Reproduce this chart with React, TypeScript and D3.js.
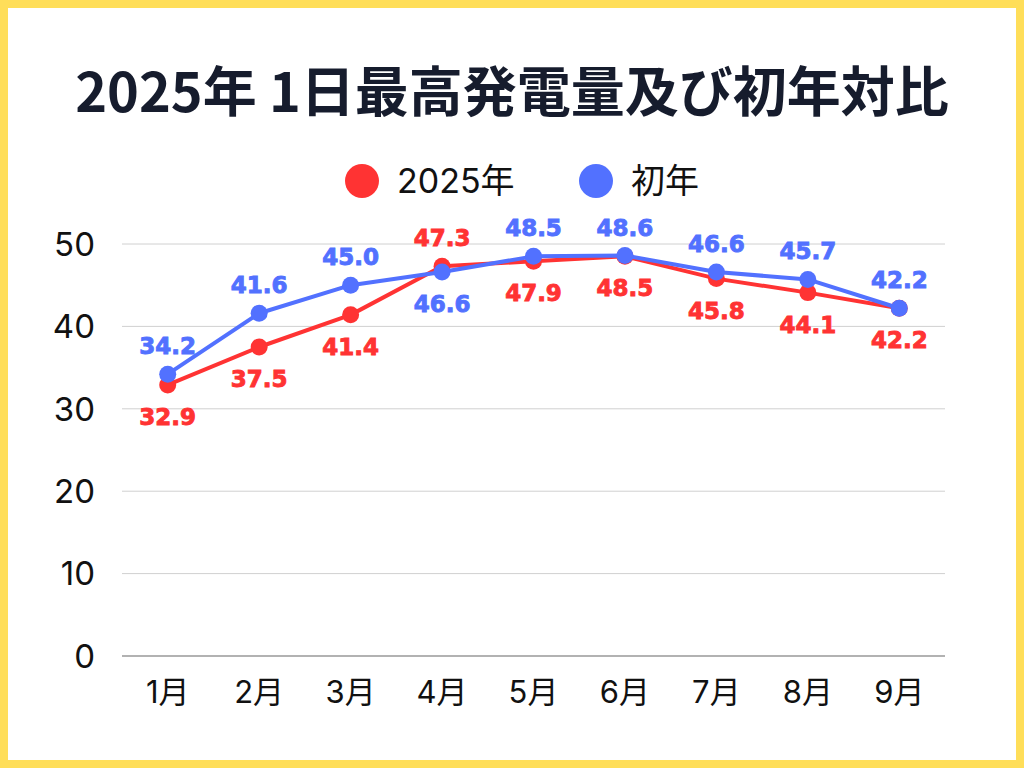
import { useEffect, useRef } from 'react';
import * as d3 from 'd3';

const months = ['1月', '2月', '3月', '4月', '5月', '6月', '7月', '8月', '9月'];
const values2025 = [32.9, 37.5, 41.4, 47.3, 47.9, 48.5, 45.8, 44.1, 42.2];
const valuesFirst = [34.2, 41.6, 45.0, 46.6, 48.5, 48.6, 46.6, 45.7, 42.2];
const yTicks = [0, 10, 20, 30, 40, 50];

const RED = '#FF3333';
const BLUE = '#5271FF';
const NUM_FONT = "Inter, 'Noto Sans CJK JP', sans-serif";

export default function App() {
  const ref = useRef<SVGSVGElement>(null);

  useEffect(() => {
    const W = 1024;
    const H = 768;
    const svg = d3.select(ref.current);
    svg.selectAll('*').remove();

    svg.append('rect').attr('width', W).attr('height', H).attr('fill', '#fff');
    svg
      .append('rect')
      .attr('x', 4)
      .attr('y', 4)
      .attr('width', W - 8)
      .attr('height', H - 8)
      .attr('fill', 'none')
      .attr('stroke', '#FFDE59')
      .attr('stroke-width', 8);

    // title
    svg
      .append('text')
      .attr('x', 512)
      .attr('y', 112)
      .attr('text-anchor', 'middle')
      .attr('font-family', "'Noto Sans CJK JP', sans-serif")
      .attr('font-weight', 700)
      .attr('font-size', 54)
      .attr('fill', '#161C2D')
      .text('2025年 1日最高発電量及び初年対比');

    // legend
    const legend = [
      { label: '2025年', color: RED, cx: 362 },
      { label: '初年', color: BLUE, cx: 596 },
    ];
    legend.forEach((l) => {
      svg.append('circle').attr('cx', l.cx).attr('cy', 181).attr('r', 17).attr('fill', l.color);
      svg
        .append('text')
        .attr('x', l.cx + 35)
        .attr('y', 193)
        .attr('font-family', NUM_FONT)
        .attr('font-size', 34)
        .attr('fill', '#111')
        .text(l.label);
    });

    const left = 122;
    const right = 945;
    const top = 244;
    const bottom = 656;

    const x = d3.scalePoint<string>().domain(months).range([left, right]).padding(0.5);
    const y = d3.scaleLinear().domain([0, 50]).range([bottom, top]);

    // grid
    const grid = svg.append('g');
    yTicks.forEach((t) => {
      grid
        .append('line')
        .attr('x1', left)
        .attr('x2', right)
        .attr('y1', y(t))
        .attr('y2', y(t))
        .attr('stroke', t === 0 ? '#999' : '#D0D0D0')
        .attr('stroke-width', t === 0 ? 1.5 : 1);
      grid
        .append('text')
        .attr('x', 95)
        .attr('y', y(t))
        .attr('dy', '0.36em')
        .attr('text-anchor', 'end')
        .attr('font-family', NUM_FONT)
        .attr('font-size', 33)
        .attr('fill', '#111')
        .text(t);
    });

    // x labels
    months.forEach((m) => {
      svg
        .append('text')
        .attr('x', x(m)!)
        .attr('y', 703)
        .attr('text-anchor', 'middle')
        .attr('font-family', NUM_FONT)
        .attr('font-size', 31)
        .attr('fill', '#111')
        .text(m);
    });

    const line = d3
      .line<number>()
      .x((_, i) => x(months[i])!)
      .y((d) => y(d));

    const series = [
      { values: values2025, other: valuesFirst, color: RED, tieUp: false },
      { values: valuesFirst, other: values2025, color: BLUE, tieUp: true },
    ];

    series.forEach((s) => {
      svg
        .append('path')
        .datum(s.values)
        .attr('d', line)
        .attr('fill', 'none')
        .attr('stroke', s.color)
        .attr('stroke-width', 4)
        .attr('stroke-linejoin', 'round');
      svg
        .append('g')
        .selectAll('circle')
        .data(s.values)
        .join('circle')
        .attr('cx', (_, i) => x(months[i])!)
        .attr('cy', (d) => y(d))
        .attr('r', 8.5)
        .attr('fill', s.color);
    });

    // value labels: higher series above its point, lower one below
    series.forEach((s) => {
      svg
        .append('g')
        .selectAll('text')
        .data(s.values)
        .join('text')
        .attr('x', (_, i) => x(months[i])!)
        .attr('y', (d, i) => {
          const up = d > s.other[i] || (d === s.other[i] && s.tieUp);
          return up ? y(d) - 20 : y(d) + 40;
        })
        .attr('text-anchor', 'middle')
        .attr('font-family', "'DejaVu Sans', sans-serif")
        .attr('font-weight', 700)
        .attr('font-size', 23)
        .attr('fill', s.color)
        .attr('stroke', s.color)
        .attr('stroke-width', 0.9)
        .text((d) => d.toFixed(1));
    });
  }, []);

  return (
    <svg
      ref={ref}
      width={1024}
      height={768}
      style={{ position: 'absolute', top: 0, left: 0, display: 'block' }}
    />
  );
}
